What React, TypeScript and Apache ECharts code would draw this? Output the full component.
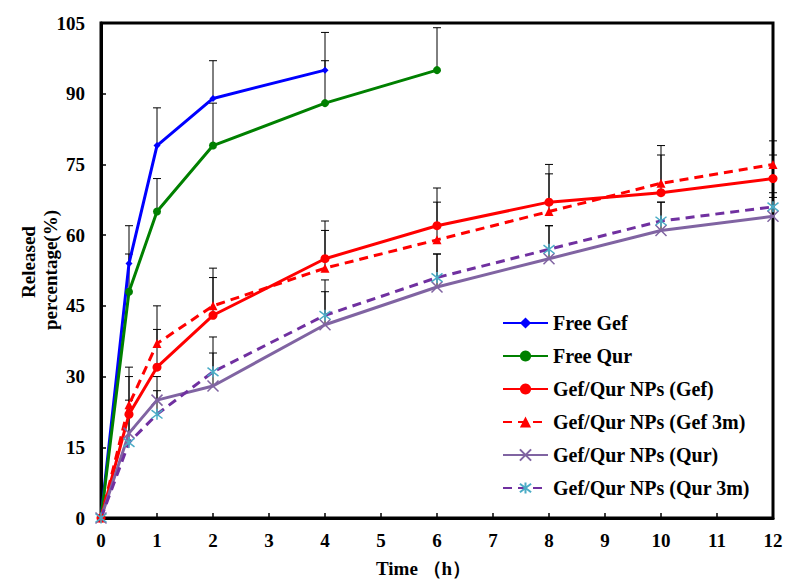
import React, { useEffect, useRef } from "react";
import * as echarts from "echarts";

const freeTimeGef = [0, 0.5, 1, 2, 4];
const freeGef = [0, 54, 79, 89, 95];
const freeGefErr = [0, 8, 8, 8, 8];

const freeTimeQur = [0, 0.5, 1, 2, 4, 6];
const freeQur = [0, 48, 65, 79, 88, 95];
const freeQurErr = [0, 8, 7, 9, 9, 9];

const npTime = [0, 0.5, 1, 2, 4, 6, 8, 10, 12];
const npGef = [0, 22, 32, 43, 55, 62, 67, 69, 72];
const npGefErr = [0, 8, 8, 8, 8, 8, 8, 8, 5];
const npGef3m = [0, 24, 37, 45, 53, 59, 65, 71, 75];
const npGef3mErr = [0, 8, 8, 8, 8, 8, 8, 8, 5];
const npQur = [0, 18, 25, 28, 41, 49, 55, 61, 64];
const npQurErr = [0, 7, 5, 7, 7, 7, 7, 6, 4];
const npQur3m = [0, 16, 22, 31, 43, 51, 57, 63, 66];
const npQur3mErr = [0, 6, 5, 7.4, 7.5, 5, 5, 4, 3];

const seriesNames = [
  "Free Gef",
  "Free Qur",
  "Gef/Qur NPs (Gef)",
  "Gef/Qur NPs (Gef 3m)",
  "Gef/Qur NPs (Qur)",
  "Gef/Qur NPs (Qur 3m)",
];

const yTitleLines = ["Released", "percentage(%)"];
const xTitle = "Time （h）";

const FONT = "Liberation Serif";

function pairs(t: number[], v: number[]) {
  return t.map((x, i) => [x, v[i]]);
}
function errs(t: number[], v: number[], e: number[]) {
  return t
    .map((x, i) => [x, v[i], v[i] + e[i]])
    .filter((d) => d[2] > d[1]);
}

export default function App() {
  const ref = useRef<HTMLDivElement>(null);
  useEffect(() => {
    const chart = echarts.init(ref.current!, null, { renderer: "svg" });
    const errData = [
      ...errs(freeTimeGef, freeGef, freeGefErr),
      ...errs(freeTimeQur, freeQur, freeQurErr),
      ...errs(npTime, npGef, npGefErr),
      ...errs(npTime, npGef3m, npGef3mErr),
      ...errs(npTime, npQur, npQurErr),
      ...errs(npTime, npQur3m, npQur3mErr),
    ];
    const xMark = "path://M0,0L10,10M10,0L0,10";
    const star = "path://M0,0L10,10M10,0L0,10M5,-1.5L5,11.5";
    const titleStyle = {
      fontFamily: FONT,
      fontWeight: "bold",
      fontSize: 19,
      fill: "#000",
    };
    chart.setOption({
      animation: false,
      backgroundColor: "#fff",
      grid: {
        left: 101,
        right: 15,
        top: 23,
        bottom: 61,
        show: true,
        borderColor: "#000",
        borderWidth: 3,
        containLabel: false,
        outerBoundsMode: "none",
      },
      legend: {
        data: seriesNames,
        orient: "vertical",
        left: 497,
        top: 308,
        itemWidth: 45,
        itemHeight: 14,
        itemGap: 13,
        textStyle: {
          fontFamily: FONT,
          fontWeight: "bold",
          fontSize: 20,
          color: "#000",
          lineHeight: 20,
        },
      },
      xAxis: {
        type: "value",
        min: 0,
        max: 12,
        interval: 1,
        splitLine: { show: false },
        axisLine: { lineStyle: { color: "#000", width: 3 } },
        axisTick: { inside: true, length: 5, lineStyle: { color: "#000", width: 1.5 } },
        axisLabel: {
          margin: 13,
          fontFamily: FONT,
          fontWeight: "bold",
          fontSize: 19,
          color: "#000",
        },
      },
      yAxis: {
        type: "value",
        min: 0,
        max: 105,
        interval: 15,
        splitLine: { show: false },
        axisLine: { lineStyle: { color: "#000", width: 3 } },
        axisTick: { inside: true, length: 5, lineStyle: { color: "#000", width: 1.5 } },
        axisLabel: {
          margin: 16,
          fontFamily: FONT,
          fontWeight: "bold",
          fontSize: 19,
          color: "#000",
        },
      },
      graphic: [
        {
          type: "text",
          left: 376,
          top: 559,
          style: { text: xTitle, ...titleStyle },
        },
        {
          type: "text",
          x: 28,
          y: 262,
          rotation: Math.PI / 2,
          style: {
            text: yTitleLines[0],
            ...titleStyle,
            align: "center",
            verticalAlign: "middle",
          },
        },
        {
          type: "text",
          x: 50,
          y: 270,
          rotation: Math.PI / 2,
          style: {
            text: yTitleLines[1],
            ...titleStyle,
            align: "center",
            verticalAlign: "middle",
          },
        },
      ],
      series: [
        {
          type: "custom",
          name: "err",
          z: 1,
          data: errData,
          renderItem: (params: any, api: any) => {
            const p = api.coord([api.value(0), api.value(1)]);
            const t = api.coord([api.value(0), api.value(2)]);
            return {
              type: "group",
              children: [
                {
                  type: "line",
                  shape: { x1: p[0], y1: p[1], x2: t[0], y2: t[1] },
                  style: { stroke: "#000", lineWidth: 1 },
                },
                {
                  type: "line",
                  shape: { x1: t[0] - 4, y1: t[1], x2: t[0] + 4, y2: t[1] },
                  style: { stroke: "#000", lineWidth: 1 },
                },
              ],
            };
          },
        },
        {
          type: "line",
          name: seriesNames[0],
          z: 3,
          data: pairs(freeTimeGef, freeGef),
          symbol: "diamond",
          symbolSize: 7,
          lineStyle: { color: "#0000FF", width: 3 },
          itemStyle: { color: "#0000FF" },
        },
        {
          type: "line",
          name: seriesNames[1],
          z: 3,
          data: pairs(freeTimeQur, freeQur),
          symbol: "circle",
          symbolSize: 8,
          lineStyle: { color: "#008000", width: 3 },
          itemStyle: { color: "#008000" },
        },
        {
          type: "line",
          name: seriesNames[2],
          z: 3,
          data: pairs(npTime, npGef),
          symbol: "circle",
          symbolSize: 9,
          lineStyle: { color: "#FF0000", width: 3 },
          itemStyle: { color: "#FF0000" },
        },
        {
          type: "line",
          name: seriesNames[3],
          z: 3,
          data: pairs(npTime, npGef3m),
          symbol: "triangle",
          symbolSize: 9,
          lineStyle: { color: "#FF0000", width: 3, type: [9, 6] },
          itemStyle: { color: "#FF0000" },
        },
        {
          type: "line",
          name: seriesNames[4],
          z: 3,
          data: pairs(npTime, npQur),
          symbol: xMark,
          symbolSize: 11,
          lineStyle: { color: "#8064A2", width: 3 },
          itemStyle: { color: "none", borderColor: "#8064A2", borderWidth: 1.5 },
        },
        {
          type: "line",
          name: seriesNames[5],
          z: 3,
          data: pairs(npTime, npQur3m),
          symbol: star,
          symbolSize: 11,
          lineStyle: { color: "#7030A0", width: 3, type: [9, 6] },
          itemStyle: { color: "none", borderColor: "#4BACC6", borderWidth: 1.5 },
        },
      ],
    });
    return () => chart.dispose();
  }, []);
  return (
    <div
      ref={ref}
      style={{ position: "fixed", left: 0, top: 0, width: 788, height: 579 }}
    />
  );
}
